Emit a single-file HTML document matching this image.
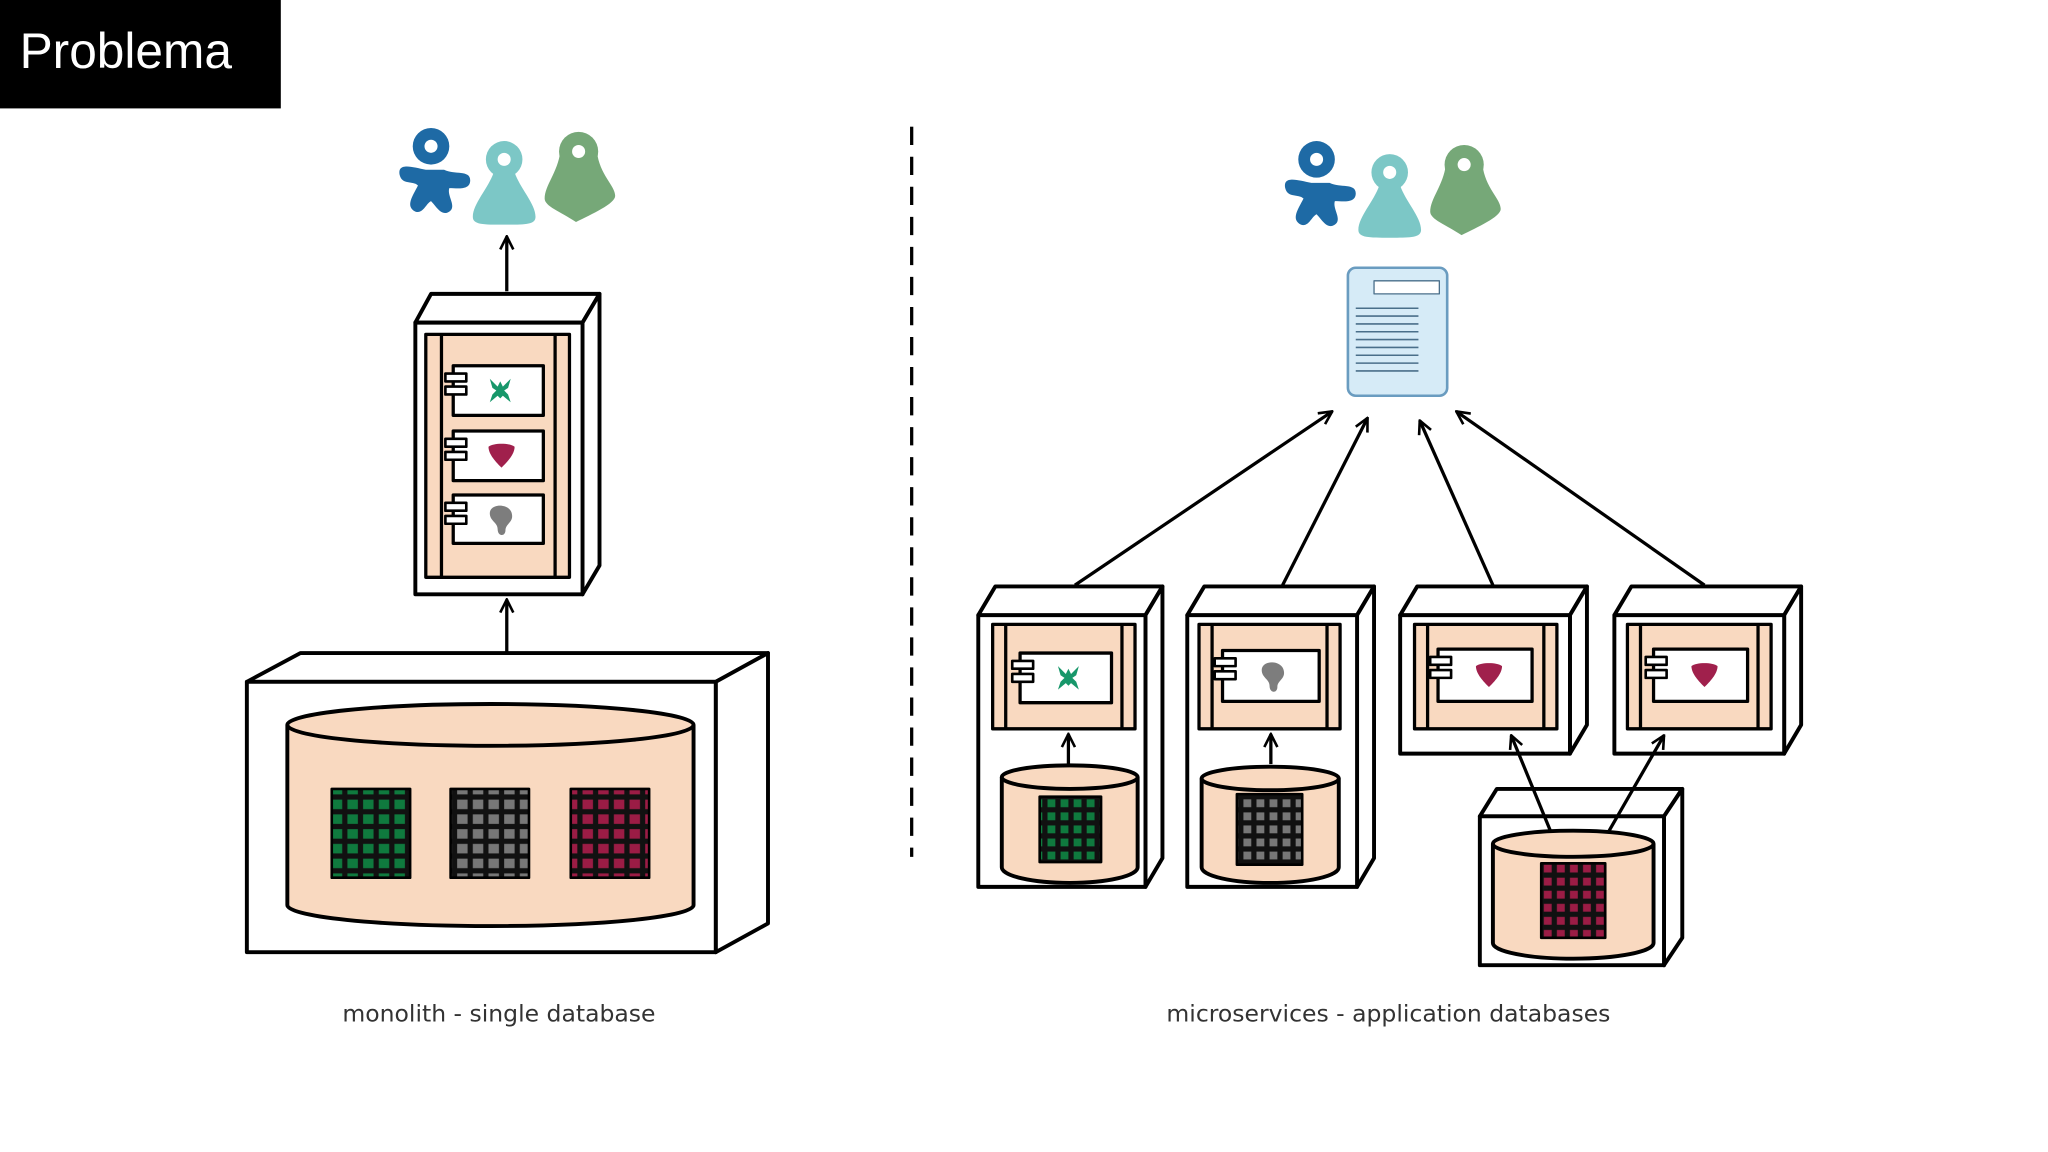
<!DOCTYPE html>
<html><head><meta charset="utf-8"><style>
html,body{margin:0;padding:0;background:#fff;width:2048px;height:1152px;overflow:hidden}
svg{display:block}
</style></head><body>
<svg width="2048" height="1152" viewBox="0 0 1568 882" preserveAspectRatio="none" xmlns="http://www.w3.org/2000/svg">
<defs>
<marker id="ah" viewBox="0 0 12 12" refX="11" refY="6" markerWidth="12" markerHeight="12" markerUnits="userSpaceOnUse" orient="auto">
<path d="M1,1 L11,6 L1,11" fill="none" stroke="#000" stroke-width="2"/>
</marker>
<pattern id="gG" width="12" height="11.3" patternUnits="userSpaceOnUse"><rect width="12" height="11.3" fill="#111"/><rect x="2" y="2" width="8" height="7.3" fill="#0f7a3e"/></pattern>
<pattern id="gK" width="12" height="11.3" patternUnits="userSpaceOnUse"><rect width="12" height="11.3" fill="#111"/><rect x="2" y="2" width="8" height="7.3" fill="#777"/></pattern>
<pattern id="gR" width="12" height="11.3" patternUnits="userSpaceOnUse"><rect width="12" height="11.3" fill="#111"/><rect x="2" y="2" width="8" height="7.3" fill="#9b1c45"/></pattern>
<pattern id="sG" width="10" height="10" patternUnits="userSpaceOnUse"><rect width="10" height="10" fill="#111"/><rect x="2" y="2" width="6" height="6" fill="#0f7a3e"/></pattern>
<pattern id="sK" width="10" height="10" patternUnits="userSpaceOnUse"><rect width="10" height="10" fill="#111"/><rect x="2" y="2" width="6" height="6" fill="#777"/></pattern>
<pattern id="sR" width="10" height="10" patternUnits="userSpaceOnUse"><rect width="10" height="10" fill="#111"/><rect x="2" y="2" width="6" height="6" fill="#9b1c45"/></pattern>
<g id="people">
 <!-- blue starfish -->
 <path d="M-4,0 C-14,-2 -26,-6 -24,4 C-22,12 -14,8 -10,12 C-14,20 -20,28 -12,32 C-6,34 -4,26 0,24 C4,28 8,36 14,32 C20,28 12,20 14,14 C20,14 30,16 30,8 C30,0 18,4 10,0 Z" fill="#1e6aa5"/>
 <circle cx="0" cy="-18" r="14" fill="#1e6aa5"/><circle cx="0" cy="-18" r="5" fill="#fff"/>
 <!-- teal pawn -->
 <g transform="translate(56,8)">
  <path d="M-8,-6 C-12,6 -24,18 -24,28 C-24,34 -16,34 0,34 C16,34 24,34 24,28 C24,18 12,6 8,-6 Z" fill="#7cc7c6"/>
  <circle cx="0" cy="-16" r="14" fill="#7cc7c6"/><circle cx="0" cy="-16" r="5" fill="#fff"/>
 </g>
 <!-- green -->
 <g transform="translate(113,2)">
  <path d="M-14,-16 C-16,0 -26,10 -26,20 C-26,26 -14,30 -2,38 C10,32 28,24 28,18 C28,10 16,2 14,-16 Z" fill="#76a878"/>
  <circle cx="0" cy="-16" r="15" fill="#76a878"/><circle cx="0" cy="-16" r="5" fill="#fff"/>
 </g>
</g>
<g id="port"><rect x="-7" y="-8" width="16" height="6" fill="#fff" stroke="#000" stroke-width="2"/><rect x="-7" y="2" width="16" height="6" fill="#fff" stroke="#000" stroke-width="2"/></g>
<path id="xg" d="M-8,-9 L-2,-3 L0,-7 L2,-3 L8,-9 L6,-2 L3,0 L6,3 L8,9 L2,4 L0,6 L-2,4 L-8,9 L-6,3 L-3,0 L-6,-2 Z" fill="#17976a"/>
<path id="hr" d="M-10,-6 C-6,-9 6,-9 10,-6 C10,0 4,6 0,10 C-4,6 -10,0 -10,-6 Z" fill="#a0204c"/>
<path id="gb" d="M-8,-4 C-8,-12 8,-12 9,-3 C10,3 4,4 4,9 C4,14 -2,14 -2,8 C-2,3 -8,2 -8,-4 Z" fill="#7d7d7d"/>
</defs>

<rect x="0" y="0" width="215" height="83" fill="#000"/>
<text x="15" y="52" font-family="Liberation Sans, sans-serif" font-size="38" fill="#fff">Problema</text>

<line x1="698" y1="97" x2="698" y2="656" stroke="#000" stroke-width="2.5" stroke-dasharray="14,9"/>

<g stroke="#000" stroke-width="3" stroke-linejoin="round">
<!-- LEFT -->
<use href="#people" x="330" y="130" stroke="none"/>
<line x1="388" y1="223" x2="388" y2="181" stroke-width="2.5" marker-end="url(#ah)"/>
<path d="M318,247 L330,225 L459,225 L446,247 Z" fill="#fff"/>
<path d="M446,247 L459,225 L459,433 L446,455 Z" fill="#fff"/>
<rect x="318" y="247" width="128" height="208" fill="#fff"/>
<rect x="326" y="256" width="110" height="186" fill="#f9d9c0" stroke-width="2.5"/>
<line x1="338" y1="256" x2="338" y2="442" stroke-width="2.5"/>
<line x1="425" y1="256" x2="425" y2="442" stroke-width="2.5"/>
<rect x="347" y="280" width="69" height="38" fill="#fff" stroke-width="2.5"/>
<rect x="347" y="330" width="69" height="38" fill="#fff" stroke-width="2.5"/>
<rect x="347" y="379" width="69" height="37" fill="#fff" stroke-width="2.5"/>
<use href="#port" x="348" y="294" stroke="none"/><use href="#port" x="348" y="344" stroke="none"/><use href="#port" x="348" y="393" stroke="none"/>
<use href="#xg" x="383" y="299" stroke="none"/>
<use href="#hr" x="384" y="348" stroke="none"/>
<use href="#gb" x="383" y="397" stroke="none"/>

<line x1="388" y1="500" x2="388" y2="459" stroke-width="2.5" marker-end="url(#ah)"/>
<path d="M189,522 L230,500 L588,500 L548,522 Z" fill="#fff"/>
<path d="M548,522 L588,500 L588,707 L548,729 Z" fill="#fff"/>
<rect x="189" y="522" width="359" height="207" fill="#fff"/>
<path d="M220,555 L220,693 A155.5,16 0 0 0 531,693 L531,555" fill="#f9d9c0"/>
<ellipse cx="375.5" cy="555" rx="155.5" ry="16" fill="#f9d9c0"/>
<rect x="254" y="604" width="60" height="68" fill="url(#gG)" stroke-width="2"/>
<rect x="345" y="604" width="60" height="68" fill="url(#gK)" stroke-width="2"/>
<rect x="437" y="604" width="60" height="68" fill="url(#gR)" stroke-width="2"/>

<!-- RIGHT -->
<use href="#people" x="1008" y="140" stroke="none"/>
<rect x="1032" y="205" width="76" height="98" rx="6" fill="#d6ebf7" stroke="#6a9cc0" stroke-width="2"/>
<rect x="1052" y="215" width="50" height="10" fill="#fff" stroke="#4a6f8a" stroke-width="1"/>
<g stroke="#4a6f8a" stroke-width="1.2">
<line x1="1038" y1="236" x2="1086" y2="236"/><line x1="1038" y1="242" x2="1086" y2="242"/><line x1="1038" y1="248" x2="1086" y2="248"/><line x1="1038" y1="254" x2="1086" y2="254"/><line x1="1038" y1="260" x2="1086" y2="260"/><line x1="1038" y1="266" x2="1086" y2="266"/><line x1="1038" y1="272" x2="1086" y2="272"/><line x1="1038" y1="278" x2="1086" y2="278"/><line x1="1038" y1="284" x2="1086" y2="284"/>
</g>

<line x1="823" y1="448" x2="1020" y2="315" stroke-width="2.5" marker-end="url(#ah)"/>
<line x1="982" y1="448" x2="1047" y2="320" stroke-width="2.5" marker-end="url(#ah)"/>
<line x1="1143" y1="448" x2="1087" y2="322" stroke-width="2.5" marker-end="url(#ah)"/>
<line x1="1305" y1="448" x2="1115" y2="315" stroke-width="2.5" marker-end="url(#ah)"/>

<!-- box1 -->
<path d="M749,471 L762,449 L890,449 L877,471 Z" fill="#fff"/>
<path d="M877,471 L890,449 L890,657 L877,679 Z" fill="#fff"/>
<rect x="749" y="471" width="128" height="208" fill="#fff"/>
<rect x="760" y="478" width="109" height="80" fill="#f9d9c0" stroke-width="2.5"/>
<line x1="770" y1="478" x2="770" y2="558" stroke-width="2.5"/><line x1="859" y1="478" x2="859" y2="558" stroke-width="2.5"/>
<rect x="781" y="500" width="70" height="38" fill="#fff" stroke-width="2.5"/>
<use href="#port" x="782" y="514" stroke="none"/>
<use href="#xg" x="818" y="519" stroke="none"/>
<line x1="818" y1="585" x2="818" y2="562" stroke-width="2.5" marker-end="url(#ah)"/>
<path d="M767,595 L767,664 A52,12 0 0 0 871,664 L871,595" fill="#f9d9c0"/>
<ellipse cx="819" cy="595" rx="52" ry="9" fill="#f9d9c0"/>
<rect x="796" y="610" width="47" height="50" fill="url(#sG)" stroke-width="2"/>

<!-- box2 -->
<path d="M909,471 L922,449 L1052,449 L1039,471 Z" fill="#fff"/>
<path d="M1039,471 L1052,449 L1052,657 L1039,679 Z" fill="#fff"/>
<rect x="909" y="471" width="130" height="208" fill="#fff"/>
<rect x="918" y="478" width="108" height="80" fill="#f9d9c0" stroke-width="2.5"/>
<line x1="928" y1="478" x2="928" y2="558" stroke-width="2.5"/><line x1="1016" y1="478" x2="1016" y2="558" stroke-width="2.5"/>
<rect x="936" y="498" width="74" height="39" fill="#fff" stroke-width="2.5"/>
<use href="#port" x="937" y="512" stroke="none"/>
<use href="#gb" x="974" y="517" stroke="none"/>
<line x1="973" y1="585" x2="973" y2="562" stroke-width="2.5" marker-end="url(#ah)"/>
<path d="M920,596 L920,664 A52.5,12 0 0 0 1025,664 L1025,596" fill="#f9d9c0"/>
<ellipse cx="972.5" cy="596" rx="52.5" ry="9" fill="#f9d9c0"/>
<rect x="947" y="608" width="50" height="54" fill="url(#sK)" stroke-width="2"/>

<!-- box3 -->
<path d="M1072,471 L1085,449 L1215,449 L1202,471 Z" fill="#fff"/>
<path d="M1202,471 L1215,449 L1215,555 L1202,577 Z" fill="#fff"/>
<rect x="1072" y="471" width="130" height="106" fill="#fff"/>
<rect x="1083" y="478" width="109" height="80" fill="#f9d9c0" stroke-width="2.5"/>
<line x1="1093" y1="478" x2="1093" y2="558" stroke-width="2.5"/><line x1="1182" y1="478" x2="1182" y2="558" stroke-width="2.5"/>
<rect x="1101" y="497" width="72" height="40" fill="#fff" stroke-width="2.5"/>
<use href="#port" x="1102" y="511" stroke="none"/>
<use href="#hr" x="1140" y="516" stroke="none"/>

<!-- box4 -->
<path d="M1236,471 L1249,449 L1379,449 L1366,471 Z" fill="#fff"/>
<path d="M1366,471 L1379,449 L1379,555 L1366,577 Z" fill="#fff"/>
<rect x="1236" y="471" width="130" height="106" fill="#fff"/>
<rect x="1246" y="478" width="110" height="80" fill="#f9d9c0" stroke-width="2.5"/>
<line x1="1256" y1="478" x2="1256" y2="558" stroke-width="2.5"/><line x1="1346" y1="478" x2="1346" y2="558" stroke-width="2.5"/>
<rect x="1266" y="497" width="72" height="40" fill="#fff" stroke-width="2.5"/>
<use href="#port" x="1267" y="511" stroke="none"/>
<use href="#hr" x="1305" y="516" stroke="none"/>

<!-- db box -->
<path d="M1133,625 L1146,604 L1288,604 L1274,625 Z" fill="#fff"/>
<path d="M1274,625 L1288,604 L1288,718 L1274,739 Z" fill="#fff"/>
<rect x="1133" y="625" width="141" height="114" fill="#fff"/>
<path d="M1143,646 L1143,722 A61.5,12 0 0 0 1266,722 L1266,646" fill="#f9d9c0"/>
<ellipse cx="1204.5" cy="646" rx="61.5" ry="10" fill="#f9d9c0"/>
<rect x="1180" y="661" width="49" height="57" fill="url(#sR)" stroke-width="2"/>
<line x1="1187" y1="636" x2="1157" y2="563" stroke-width="2.5" marker-end="url(#ah)"/>
<line x1="1232" y1="636" x2="1274" y2="563" stroke-width="2.5" marker-end="url(#ah)"/>
</g>

<text x="382" y="782" text-anchor="middle" font-family="DejaVu Sans, Liberation Sans, sans-serif" font-size="18" fill="#333">monolith - single database</text>
<text x="1063" y="782" text-anchor="middle" font-family="DejaVu Sans, Liberation Sans, sans-serif" font-size="18" fill="#333">microservices - application databases</text>
</svg>
</body></html>
